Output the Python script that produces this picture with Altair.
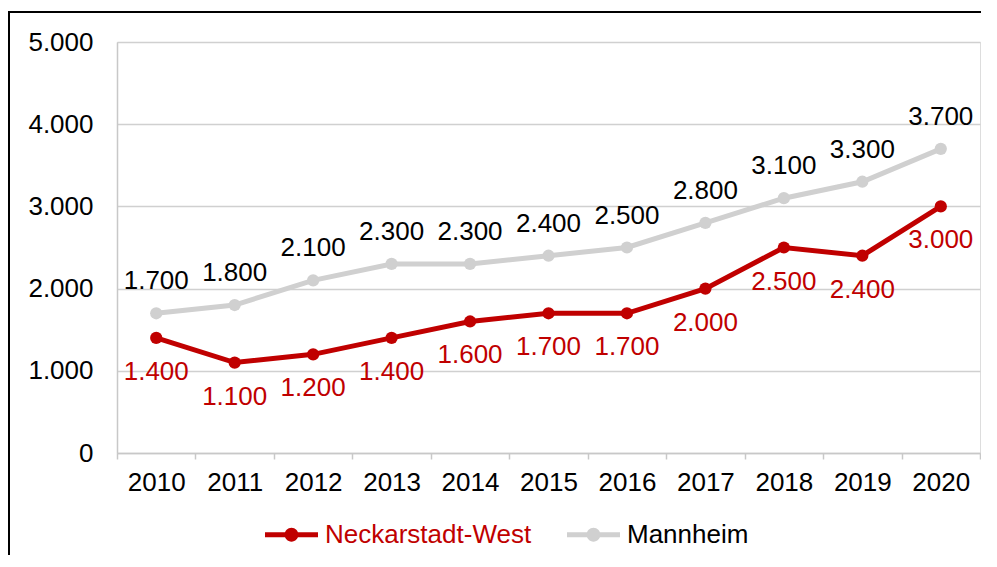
import altair as alt
import pandas as pd

years = [str(y) for y in range(2010, 2021)]
neckarstadt = [1400, 1100, 1200, 1400, 1600, 1700, 1700, 2000, 2500, 2400, 3000]
mannheim = [1700, 1800, 2100, 2300, 2300, 2400, 2500, 2800, 3100, 3300, 3700]
series_names = ["Neckarstadt-West", "Mannheim"]
series_colors = ["#C00000", "#D0D0D0"]

rows = []
for y, a, b in zip(years, neckarstadt, mannheim):
    rows.append({"year": y, "series": series_names[0], "value": a})
    rows.append({"year": y, "series": series_names[1], "value": b})
df = pd.DataFrame(rows)

FONT = "Liberation Sans"
FS = 26
W, H = 863, 411

base = alt.Chart(df).transform_calculate(
    label="replace(format(datum.value, ','), ',', '.')"
)

xenc = alt.X("year:O", title=None,
             scale=alt.Scale(paddingInner=0, paddingOuter=0),
             axis=alt.Axis(labelAngle=0, labelFontSize=FS, labelFont=FONT, labelColor="#000",
                           labelPadding=10, tickBand="extent", tickColor="#C8C8C8", tickSize=6,
                           tickWidth=1.5, domainColor="#C8C8C8", domainWidth=1.5, grid=False))
yenc = alt.Y("value:Q", title=None,
             scale=alt.Scale(domain=[0, 5000]),
             axis=alt.Axis(values=[0, 1000, 2000, 3000, 4000, 5000], labelFontSize=FS, labelFont=FONT,
                           labelColor="#000", labelPadding=24, ticks=False,
                           labelExpr="replace(format(datum.value, ','), ',', '.')",
                           domainColor="#C8C8C8", domainWidth=1.5,
                           grid=True, gridColor="#D0D0D0", gridWidth=1.5))

color = alt.Color("series:N",
                  scale=alt.Scale(domain=series_names, range=series_colors),
                  legend=alt.Legend(orient="none", legendX=148, legendY=466, direction="horizontal",
                                    title=None, labelFontSize=FS, labelFont=FONT, labelLimit=500,
                                    labelColor={"expr": "datum.label === 'Neckarstadt-West' ? '#C00000' : '#000000'"},
                                    symbolType="M-1,-0.09 L1,-0.09 L1,0.09 L-1,0.09 Z M-0.26,0 A0.26,0.26 0 1,1 0.26,0 A0.26,0.26 0 1,1 -0.26,0 Z",
                                    symbolSize=2809, symbolStrokeWidth=0, columnPadding=35,
                                    labelOffset=7))

lines = base.mark_line(strokeWidth=5).encode(x=xenc, y=yenc, color=color,
                                                  order=alt.Order("year:O"))
points = base.mark_circle(size=150, opacity=1).encode(x=xenc, y=yenc, color=color)

text_n = base.transform_filter(alt.datum.series == series_names[0]).mark_text(
    dy=34, fontSize=FS, font=FONT, color="#C00000").encode(x=xenc, y=yenc, text="label:N")
text_m = base.transform_filter(alt.datum.series == series_names[1]).mark_text(
    dy=-32, fontSize=FS, font=FONT, color="#000000").encode(x=xenc, y=yenc, text="label:N")

frame = alt.Chart(pd.DataFrame({"a": [0]})).mark_rect(
    fill=None, stroke="#000000", strokeWidth=2).encode(
    x=alt.value(-108), x2=alt.value(1000), y=alt.value(-30), y2=alt.value(600))

chart = alt.layer(lines, points, text_n, text_m, frame).properties(
    width=W, height=H,
    autosize=alt.AutoSizeParams(type="none"),
    padding={"left": 109, "top": 34, "right": 1, "bottom": 102},
).configure_view(stroke=None).configure(background="white")

chart.save("out.html", embed_options={"renderer": "svg", "actions": False})
